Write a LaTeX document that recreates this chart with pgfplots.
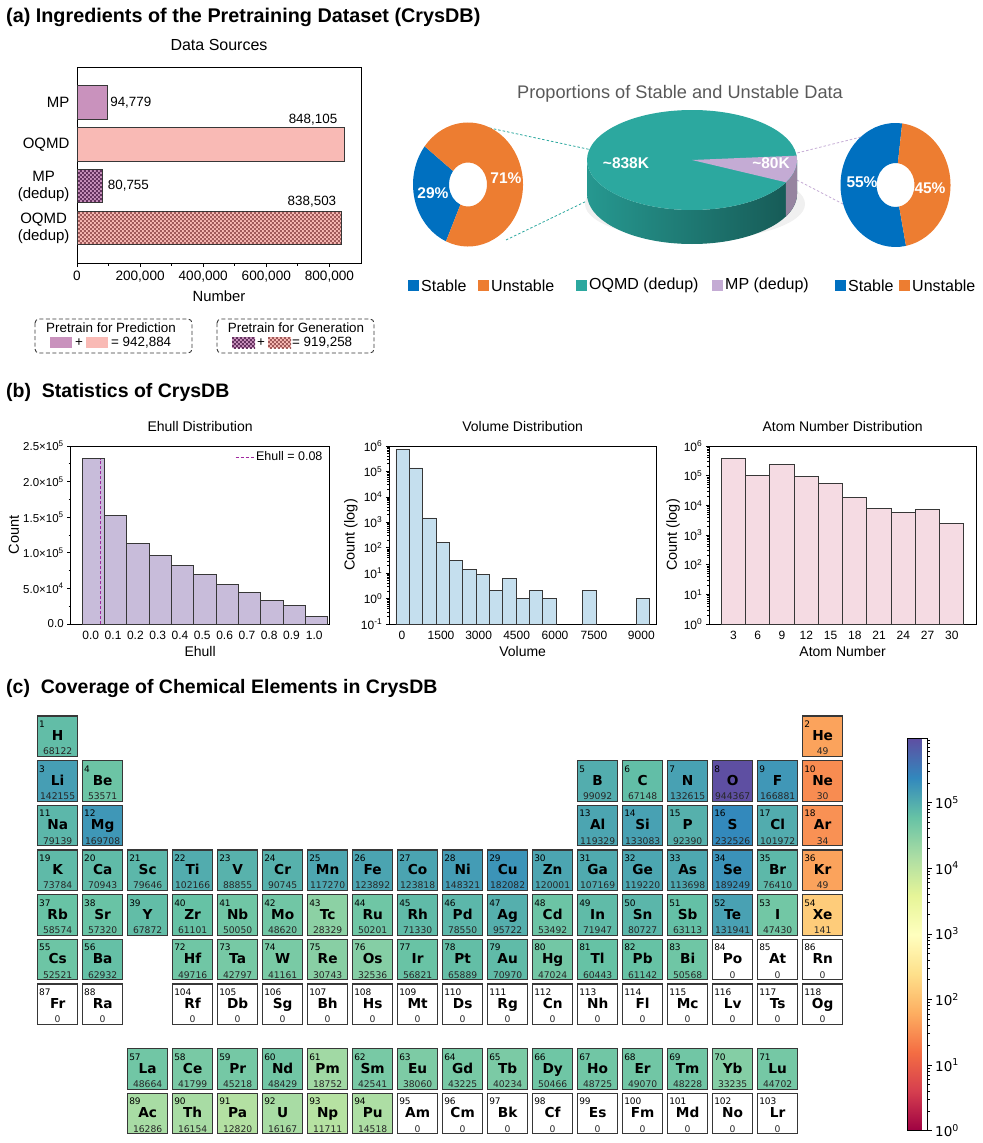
\documentclass[border=0pt]{standalone}
\usepackage{fontspec}
\setmainfont{Liberation Sans}
\setsansfont{Liberation Sans}
\newfontfamily\djv{DejaVu Sans}
\usepackage{pgfplots}
\usepackage{pgfplotstable}
\pgfplotsset{compat=1.18}
\usetikzlibrary{patterns}
\pgfkeys{/pgf/number format/assume math mode=true}
\newcommand\fs[2]{\fontsize{#1bp}{#2bp}\selectfont}

\definecolor{mpc}{RGB}{201,146,189}
\definecolor{oqc}{RGB}{249,186,181}
\definecolor{mpdark}{RGB}{100,50,95}
\definecolor{oqdark}{RGB}{160,90,90}
\definecolor{ehc}{RGB}{200,188,218}
\definecolor{volc}{RGB}{197,223,238}
\definecolor{atc}{RGB}{245,219,227}
\definecolor{stb}{RGB}{0,112,192}
\definecolor{ust}{RGB}{237,125,49}
\definecolor{tealc}{RGB}{44,168,159}
\definecolor{tealside}{RGB}{38,152,144}
\definecolor{tealmid}{RGB}{33,128,121}
\definecolor{tealdk}{RGB}{22,88,84}
\definecolor{mpd}{RGB}{196,171,212}
\definecolor{mpside}{RGB}{150,132,160}
\definecolor{dashp}{RGB}{160,40,160}
\definecolor{edge}{RGB}{55,55,55}
\definecolor{ptitle}{RGB}{89,89,89}

\pgfdeclarepatternformonly{smallcheck}{\pgfpointorigin}{\pgfpoint{4.4bp}{4.4bp}}{\pgfpoint{4.4bp}{4.4bp}}{%
  \pgfpathrectangle{\pgfpointorigin}{\pgfpoint{2.2bp}{2.2bp}}%
  \pgfpathrectangle{\pgfpoint{2.2bp}{2.2bp}}{\pgfpoint{2.2bp}{2.2bp}}%
  \pgfusepath{fill}}

% ---------- data ----------
\pgfplotstableread{
x c
0.05 232000
0.15 152000
0.25 112500
0.35 96500
0.45 82500
0.55 69000
0.65 55500
0.75 44000
0.85 33500
0.95 26000
1.05 10000
}\ehull

\pgfplotstableread{
k c
0.5 746000
1.5 137000
2.5 1480
3.5 155
4.5 32
5.5 14
6.5 9
7.5 2
8.5 6
9.5 1
10.5 2
11.5 1
14.5 2
18.5 1
}\volume

\pgfplotstableread{
x c
3 373000
6 102000
9 246000
12 94000
15 56000
18 18400
21 8000
24 5900
27 7200
30 2500
}\atoms

\pgfplotstableread{
x y z sym n
1 1 1 H 68122
18 1 2 He 49
1 2 3 Li 142155
2 2 4 Be 53571
13 2 5 B 99092
14 2 6 C 67148
15 2 7 N 132615
16 2 8 O 944367
17 2 9 F 166881
18 2 10 Ne 30
1 3 11 Na 79139
2 3 12 Mg 169708
13 3 13 Al 119329
14 3 14 Si 133083
15 3 15 P 92390
16 3 16 S 232526
17 3 17 Cl 101972
18 3 18 Ar 34
1 4 19 K 73784
2 4 20 Ca 70943
3 4 21 Sc 79646
4 4 22 Ti 102166
5 4 23 V 88855
6 4 24 Cr 90745
7 4 25 Mn 117270
8 4 26 Fe 123892
9 4 27 Co 123818
10 4 28 Ni 148321
11 4 29 Cu 182082
12 4 30 Zn 120001
13 4 31 Ga 107169
14 4 32 Ge 119220
15 4 33 As 113698
16 4 34 Se 189249
17 4 35 Br 76410
18 4 36 Kr 49
1 5 37 Rb 58574
2 5 38 Sr 57320
3 5 39 Y 67872
4 5 40 Zr 61101
5 5 41 Nb 50050
6 5 42 Mo 48620
7 5 43 Tc 28329
8 5 44 Ru 50201
9 5 45 Rh 71330
10 5 46 Pd 78550
11 5 47 Ag 95722
12 5 48 Cd 53492
13 5 49 In 71947
14 5 50 Sn 80727
15 5 51 Sb 63113
16 5 52 Te 131941
17 5 53 I 47430
18 5 54 Xe 141
1 6 55 Cs 52521
2 6 56 Ba 62932
4 6 72 Hf 49716
5 6 73 Ta 42797
6 6 74 W 41161
7 6 75 Re 30743
8 6 76 Os 32536
9 6 77 Ir 56821
10 6 78 Pt 65889
11 6 79 Au 70970
12 6 80 Hg 47024
13 6 81 Tl 60443
14 6 82 Pb 61142
15 6 83 Bi 50568
16 6 84 Po 0
17 6 85 At 0
18 6 86 Rn 0
1 7 87 Fr 0
2 7 88 Ra 0
4 7 104 Rf 0
5 7 105 Db 0
6 7 106 Sg 0
7 7 107 Bh 0
8 7 108 Hs 0
9 7 109 Mt 0
10 7 110 Ds 0
11 7 111 Rg 0
12 7 112 Cn 0
13 7 113 Nh 0
14 7 114 Fl 0
15 7 115 Mc 0
16 7 116 Lv 0
17 7 117 Ts 0
18 7 118 Og 0
3 8.45 57 La 48664
4 8.45 58 Ce 41799
5 8.45 59 Pr 45218
6 8.45 60 Nd 48429
7 8.45 61 Pm 18752
8 8.45 62 Sm 42541
9 8.45 63 Eu 38060
10 8.45 64 Gd 43225
11 8.45 65 Tb 40234
12 8.45 66 Dy 50466
13 8.45 67 Ho 48725
14 8.45 68 Er 49070
15 8.45 69 Tm 48228
16 8.45 70 Yb 33235
17 8.45 71 Lu 44702
3 9.45 89 Ac 16286
4 9.45 90 Th 16154
5 9.45 91 Pa 12820
6 9.45 92 U 16167
7 9.45 93 Np 11711
8 9.45 94 Pu 14518
9 9.45 95 Am 0
10 9.45 96 Cm 0
11 9.45 97 Bk 0
12 9.45 98 Cf 0
13 9.45 99 Es 0
14 9.45 100 Fm 0
15 9.45 101 Md 0
16 9.45 102 No 0
17 9.45 103 Lr 0
}\ptab

% stable shares (percent) of the two donuts
\def\lstable{29}
\def\rstable{55}

\newcommand\donutseg[3]{%
  \fill[#1] (axis cs:{55*cos(#2)},{62*sin(#2)}) arc[start angle={#2}, end angle={#3}, x radius=55bp, y radius=62bp]
   -- (axis cs:{19*cos(#3)},{22*sin(#3)}) arc[start angle={#3}, end angle={#2}, x radius=19bp, y radius=22bp] -- cycle;}

\pgfplotsset{
  hist/.style={scale only axis, anchor=north west, height=178bp,
    axis line style={line width=0.9bp, black},
    tick align=outside, xtick style={draw=none}, ytick pos=left,
    ytick style={line width=0.7bp, black}, major tick length=3.5bp, minor tick length=2bp,
    ticklabel style={font=\fs{12}{13}},
    xlabel style={font=\fs{14}{16}, at={(axis description cs:0.5,-0.157)}, anchor=center},
    ylabel style={font=\fs{14.5}{16}},
    title style={font=\fs{14}{16}, at={(axis description cs:0.5,1)}, anchor=base, yshift=9bp},
    clip=false},
  linelegend/.style={legend image code/.code={\draw[dashp, line width=1.1bp, dash pattern=on 3bp off 2bp] (0bp,0bp) -- (18bp,0bp);}},
}

\begin{document}
\begin{tikzpicture}
\useasboundingbox (0,0) rectangle (983bp,-1143bp);

% ---------- section titles ----------
\node[anchor=base west, inner sep=0pt, font=\bfseries\fs{19.8}{22}] at (6bp,-22bp) {(a) Ingredients of the Pretraining Dataset (CrysDB)};
\node[anchor=base west, inner sep=0pt, font=\bfseries\fs{19.5}{22}] at (6bp,-397.7bp) {(b)\ \ Statistics of CrysDB};
\node[anchor=base west, inner sep=0pt, font=\bfseries\fs{19.5}{22}] at (6bp,-693bp) {(c)\ \ Coverage of Chemical Elements in CrysDB};

% ---------- (a) bar chart ----------
\begin{axis}[at={(77bp,-67bp)}, anchor=north west, scale only axis, width=284bp, height=196bp,
  xmin=0, xmax=900000, ymin=-0.84, ymax=3.85,
  axis line style={line width=0.9bp, black},
  xtick={0,200000,400000,600000,800000}, minor x tick num=1, xtick pos=left, tick align=outside,
  major tick length=4bp, minor tick length=2.5bp, xtick style={line width=0.8bp, black},
  scaled x ticks=false,
  xticklabel style={/pgf/number format/fixed, /pgf/number format/1000 sep={,}, font=\fs{13.6}{15}},
  ytick={0,1,2,3}, yticklabels={{OQMD\\(dedup)},{MP\\(dedup)},{OQMD},{MP}}, ytick style={draw=none},
  yticklabel style={align=center, font=\fs{15}{17}},
  xlabel={Number}, xlabel style={font=\fs{14.8}{16}, at={(axis description cs:0.5,-0.168)}, anchor=center},
  title={Data Sources}, title style={font=\fs{16}{18}, at={(axis description cs:0.5,1)}, anchor=base, yshift=11bp},
  bar shift=0pt, bar width=0.8, clip=false]
\addplot[xbar, fill=mpc, draw=edge, line width=0.8bp, point meta=x,
  nodes near coords={\pgfmathprintnumber[fixed,precision=0,1000 sep={,}]{\pgfplotspointmeta}},
  nodes near coords style={anchor=west, inner sep=0pt, xshift=3bp, font=\fs{13.4}{15}, text=black}]
  coordinates {(94779,3)};
\addplot[xbar, fill=oqc, draw=edge, line width=0.8bp, point meta=x,
  nodes near coords={\pgfmathprintnumber[fixed,precision=0,1000 sep={,}]{\pgfplotspointmeta}},
  nodes near coords style={anchor=base east, inner sep=0pt, xshift=-7bp, yshift=21bp, font=\fs{13.4}{15}, text=black}]
  coordinates {(848105,2)};
\addplot[xbar, fill=mpc, draw=edge, line width=0.8bp, postaction={pattern=smallcheck, pattern color=mpdark}, point meta=x,
  nodes near coords={\pgfmathprintnumber[fixed,precision=0,1000 sep={,}]{\pgfplotspointmeta}},
  nodes near coords style={anchor=west, inner sep=0pt, xshift=5bp, font=\fs{13.4}{15}, text=black}]
  coordinates {(80755,1)};
\addplot[xbar, fill=oqc, draw=edge, line width=0.8bp, postaction={pattern=smallcheck, pattern color=oqdark}, point meta=x,
  nodes near coords={\pgfmathprintnumber[fixed,precision=0,1000 sep={,}]{\pgfplotspointmeta}},
  nodes near coords style={anchor=base east, inner sep=0pt, xshift=-5bp, yshift=22bp, font=\fs{13.4}{15}, text=black}]
  coordinates {(838503,0)};
\end{axis}

% legend boxes under the bar chart
\draw[edge, line width=0.9bp, dash pattern=on 4bp off 2.5bp, rounded corners=4bp] (35bp,-319bp) rectangle (192bp,-353bp);
\node[font=\fs{13.4}{15}, inner sep=0pt] at (111bp,-328bp) {Pretrain for Prediction};
\fill[mpc] (50bp,-337bp) rectangle (72bp,-348bp);
\node[font=\fs{13.4}{15}, inner sep=0pt] at (79bp,-343bp) {+};
\fill[oqc] (86bp,-337bp) rectangle (108bp,-348bp);
\node[font=\fs{13.4}{15}, inner sep=0pt, anchor=west] at (111bp,-343bp) {= 942,884};
\draw[edge, line width=0.9bp, dash pattern=on 4bp off 2.5bp, rounded corners=4bp] (217bp,-319bp) rectangle (374bp,-353bp);
\node[font=\fs{13.4}{15}, inner sep=0pt] at (296bp,-328bp) {Pretrain for Generation};
\fill[mpc] (232bp,-337bp) rectangle (255bp,-348bp);
\fill[pattern=smallcheck, pattern color=mpdark] (232bp,-337bp) rectangle (255bp,-348bp);
\node[font=\fs{13.4}{15}, inner sep=0pt] at (261bp,-343bp) {+};
\fill[oqc] (268bp,-337bp) rectangle (291bp,-348bp);
\fill[pattern=smallcheck, pattern color=oqdark] (268bp,-337bp) rectangle (291bp,-348bp);
\node[font=\fs{13.4}{15}, inner sep=0pt, anchor=west] at (292bp,-343bp) {= 919,258};

% ---------- (a) pies ----------
\node[font=\fs{18.2}{20}, text=ptitle] at (680bp,-94bp) {Proportions of Stable and Unstable Data};

% connectors
\draw[tealc, line width=0.8bp, dash pattern=on 2.5bp off 2bp] (485bp,-127bp) -- (592bp,-150bp);
\draw[tealc, line width=0.8bp, dash pattern=on 2.5bp off 2bp] (506bp,-240bp) -- (593bp,-198bp);
\draw[mpd, line width=0.8bp, dash pattern=on 2.5bp off 2bp] (793bp,-154bp) -- (905bp,-126bp);
\draw[mpd, line width=0.8bp, dash pattern=on 2.5bp off 2bp] (793bp,-178bp) -- (916bp,-242bp);

% left donut (OQMD dedup)
\begin{axis}[at={(468bp,-184.5bp)}, anchor=center, x=1bp, y=1bp, xmin=-60, xmax=60, ymin=-65, ymax=65, hide axis, clip=false]
\donutseg{stb}{142}{142+\lstable*3.6}
\donutseg{ust}{142+\lstable*3.6}{502}
\end{axis}
\node[white, font=\bfseries\fs{15.5}{17}] at (433bp,-193bp) {\lstable\%};
\node[white, font=\bfseries\fs{15.5}{17}] at (506bp,-178bp) {71\%};

% right donut (MP dedup)
\begin{axis}[at={(895.5bp,-185bp)}, anchor=center, x=1bp, y=1bp, xmin=-60, xmax=60, ymin=-65, ymax=65, hide axis, clip=false]
\donutseg{stb}{83}{83+\rstable*3.6}
\donutseg{ust}{83+\rstable*3.6}{443}
\end{axis}
\node[white, font=\bfseries\fs{15.5}{17}] at (862bp,-182bp) {\rstable\%};
\node[white, font=\bfseries\fs{15.5}{17}] at (930bp,-188bp) {45\%};

% 3D pie: OQMD (dedup) 838,503 vs MP (dedup) 80,755
\begin{axis}[at={(692bp,-160bp)}, anchor=center, x=1bp, y=1bp, xmin=-110, xmax=110, ymin=-90, ymax=90, hide axis, clip=false]
\fill[black!6] (axis cs:3,-44) ellipse[x radius=110bp, y radius=36bp];
\shade[left color=tealside, middle color=tealmid, right color=tealdk] (axis cs:-105,0) -- (axis cs:-105,-34) arc[start angle=180, end angle=360, x radius=105bp, y radius=50bp] -- (axis cs:105,0) arc[start angle=0, end angle=-180, x radius=105bp, y radius=50bp] -- cycle;
\fill[mpside] (axis cs:{105*cos(-26.5)},{50*sin(-26.5)}) arc[start angle=-26.5, end angle=0, x radius=105bp, y radius=50bp] -- (axis cs:105,-34) arc[start angle=0, end angle=-26.5, x radius=105bp, y radius=50bp] -- cycle;
\fill[tealc] (axis cs:0,0) ellipse[x radius=105bp, y radius=50bp];
\fill[mpd] (axis cs:0,0) -- (axis cs:{105*cos(-26.5)},{50*sin(-26.5)}) arc[start angle=-26.5, end angle=5, x radius=105bp, y radius=50bp] -- cycle;
\end{axis}
\node[white, font=\bfseries\fs{15.5}{17}] at (626bp,-163bp) {\textasciitilde838K};
\node[white, font=\bfseries\fs{15.5}{17}] at (771bp,-163bp) {\textasciitilde80K};

% pie legends
\fill[stb] (408bp,-280bp) rectangle (419bp,-291bp);
\node[anchor=west, inner sep=0pt, font=\fs{16}{18}] at (421bp,-285.5bp) {Stable};
\fill[ust] (478bp,-280bp) rectangle (489bp,-291bp);
\node[anchor=west, inner sep=0pt, font=\fs{16}{18}] at (491bp,-285.5bp) {Unstable};
\fill[tealc] (576bp,-280bp) rectangle (587bp,-291bp);
\node[anchor=west, inner sep=0pt, font=\fs{16}{18}] at (589bp,-285.5bp) {OQMD (dedup)};
\fill[mpd] (712bp,-280bp) rectangle (723bp,-291bp);
\node[anchor=west, inner sep=0pt, font=\fs{16}{18}] at (725bp,-285.5bp) {MP (dedup)};
\fill[stb] (835bp,-280bp) rectangle (846bp,-291bp);
\node[anchor=west, inner sep=0pt, font=\fs{16}{18}] at (848bp,-285.5bp) {Stable};
\fill[ust] (899bp,-280bp) rectangle (910bp,-291bp);
\node[anchor=west, inner sep=0pt, font=\fs{16}{18}] at (912bp,-285.5bp) {Unstable};

% ---------- (b) Ehull ----------
\begin{axis}[hist, at={(70.7bp,-446bp)}, width=258.8bp,
  xmin=-0.052, xmax=1.108, ymin=0, ymax=250000, scaled y ticks=false,
  xtick={0.038,0.138,0.238,0.338,0.438,0.538,0.638,0.738,0.838,0.938,1.04},
  xticklabels={0.0,0.1,0.2,0.3,0.4,0.5,0.6,0.7,0.8,0.9,1.0},
  ytick={0,50000,100000,150000,200000,250000},
  yticklabels={0.0,5.0×10\textsuperscript{4},1.0×10\textsuperscript{5},1.5×10\textsuperscript{5},2.0×10\textsuperscript{5},2.5×10\textsuperscript{5}},
  yticklabel style={font=\fs{11.5}{13}},
  minor y tick num=1,
  xlabel={Ehull}, ylabel={Count}, ylabel style={at={(axis description cs:-0.22,0.5)}, anchor=center},
  title={Ehull Distribution}, linelegend,
  legend style={draw=none, fill=none, at={(axis description cs:0.985,0.985)}, anchor=north east, font=\fs{12.5}{13}, inner sep=1bp}]
\addplot[ybar, bar width=0.1, bar shift=0pt, fill=ehc, draw=edge, line width=0.9bp, forget plot] table[x=x, y=c] \ehull;
\addplot[dashp, line width=1.1bp, dash pattern=on 3bp off 2bp] coordinates {(0.08,0) (0.08,232000)};
\addlegendentry{Ehull = 0.08}
\end{axis}

% ---------- (b) Volume ----------
\begin{axis}[hist, at={(389.3bp,-446bp)}, width=266.7bp,
  ymode=log, log origin=infty, ymin=0.1, ymax=1e6, xmin=-0.5, xmax=19.5,
  xtick={0.45,3.38,6.2,9.05,11.93,14.85,18.4},
  xticklabels={0,1500,3000,4500,6000,7500,9000},
  ytick={1e-1,1,1e1,1e2,1e3,1e4,1e5,1e6},
  yticklabels={10\textsuperscript{-1},10\textsuperscript{0},10\textsuperscript{1},10\textsuperscript{2},10\textsuperscript{3},10\textsuperscript{4},10\textsuperscript{5},10\textsuperscript{6}},
  minor ytick={2e-1,3e-1,4e-1,5e-1,6e-1,7e-1,8e-1,9e-1,2,3,4,5,6,7,8,9,2e1,3e1,4e1,5e1,6e1,7e1,8e1,9e1,2e2,3e2,4e2,5e2,6e2,7e2,8e2,9e2,2e3,3e3,4e3,5e3,6e3,7e3,8e3,9e3,2e4,3e4,4e4,5e4,6e4,7e4,8e4,9e4,2e5,3e5,4e5,5e5,6e5,7e5,8e5,9e5},
  xlabel={Volume}, ylabel={Count (log)}, ylabel style={at={(axis description cs:-0.144,0.5)}, anchor=center},
  title={Volume Distribution}]
\addplot[ybar, bar width=1, bar shift=0pt, fill=volc, draw=edge, line width=0.9bp] table[x=k, y=c] \volume;
\end{axis}

% ---------- (b) Atom number ----------
\begin{axis}[hist, at={(709.3bp,-446bp)}, width=266.7bp,
  ymode=log, log origin=infty, ymin=1, ymax=1e6, xmin=0, xmax=33,
  xtick={3,6,9,12,15,18,21,24,27,30},
  ytick={1,1e1,1e2,1e3,1e4,1e5,1e6},
  yticklabels={10\textsuperscript{0},10\textsuperscript{1},10\textsuperscript{2},10\textsuperscript{3},10\textsuperscript{4},10\textsuperscript{5},10\textsuperscript{6}},
  minor ytick={2,3,4,5,6,7,8,9,2e1,3e1,4e1,5e1,6e1,7e1,8e1,9e1,2e2,3e2,4e2,5e2,6e2,7e2,8e2,9e2,2e3,3e3,4e3,5e3,6e3,7e3,8e3,9e3,2e4,3e4,4e4,5e4,6e4,7e4,8e4,9e4,2e5,3e5,4e5,5e5,6e5,7e5,8e5,9e5},
  xlabel={Atom Number}, ylabel={Count (log)}, ylabel style={at={(axis description cs:-0.136,0.5)}, anchor=center},
  title={Atom Number Distribution}]
\addplot[ybar, bar width=3, bar shift=0pt, fill=atc, draw=edge, line width=0.9bp] table[x=x, y=c] \atoms;
\end{axis}

% ---------- (c) periodic table ----------
\begin{axis}[at={(35.15bp,-713.87bp)}, anchor=north west, scale only axis, width=810bp, height=422.04bp,
  xmin=0.5, xmax=18.5, ymin=0.5, ymax=9.95, y dir=reverse, hide axis, clip=false,
  colormap={spectral}{rgb255=(158,1,66) rgb255=(213,62,79) rgb255=(244,109,67) rgb255=(253,174,97) rgb255=(254,224,139) rgb255=(255,255,191) rgb255=(230,245,152) rgb255=(171,221,164) rgb255=(102,194,165) rgb255=(50,136,189) rgb255=(94,79,162)},
  point meta min=0, point meta max=5.975,
  colorbar,
  colorbar style={at={(parent axis.north east)}, anchor=north west, xshift=53.6bp, yshift=-24.8bp,
    scale only axis, width=20.4bp, height=392bp,
    ytick={0,1,2,3,4,5},
    yticklabels={10\textsuperscript{0},10\textsuperscript{1},10\textsuperscript{2},10\textsuperscript{3},10\textsuperscript{4},10\textsuperscript{5}},
    minor ytick={0.301,0.477,0.602,0.699,0.778,0.845,0.903,0.954,1.301,1.477,1.602,1.699,1.778,1.845,1.903,1.954,2.301,2.477,2.602,2.699,2.778,2.845,2.903,2.954,3.301,3.477,3.602,3.699,3.778,3.845,3.903,3.954,4.301,4.477,4.602,4.699,4.778,4.845,4.903,4.954,5.301,5.477,5.602,5.699,5.778,5.845,5.903,5.954},
    ytick pos=right, yticklabel pos=right, tick align=outside,
    major tick length=4bp, minor tick length=2.5bp, tick style={black, line width=0.7bp},
    yticklabel style={font=\djv\fs{13.5}{14}},
    axis line style={line width=0.8bp, black}}]
% coloured cells (count > 0)
\addplot[scatter, only marks, mark=square*, mark size=20.2bp,
  scatter/use mapped color={draw=edge, fill=mapped color},
  mark options={line width=1.1bp},
  restrict expr to domain={\thisrow{n}}{0.5:5000000},
  point meta={ln(\thisrow{n})/2.302585093}] table[x=x, y=y] \ptab;
% empty cells (count = 0)
\addplot[only marks, mark=square*, mark size=20.2bp,
  mark options={fill=white, draw=edge, line width=1.1bp},
  restrict expr to domain={\thisrow{n}}{-1:0.5}] table[x=x, y=y] \ptab;
% symbols
\addplot[draw=none, mark=none, point meta=explicit symbolic, nodes near coords,
  nodes near coords style={anchor=base, inner sep=0pt, yshift=-4.4bp, font=\djv\bfseries\fs{13.7}{14}, text=black}]
  table[x=x, y=y, meta=sym] \ptab;
% atomic numbers
\addplot[draw=none, mark=none, point meta=explicit symbolic, nodes near coords,
  nodes near coords style={anchor=north west, inner sep=0pt, xshift=-18.6bp, yshift=15.6bp, font=\djv\fs{9}{10}, text=black}]
  table[x=x, y=y, meta=z] \ptab;
% counts
\addplot[draw=none, mark=none, point meta=explicit symbolic, nodes near coords,
  nodes near coords style={anchor=base, inner sep=0pt, yshift=-18.6bp, font=\djv\fs{9.2}{10}, text=black!85}]
  table[x=x, y=y, meta=n] \ptab;
\end{axis}

\end{tikzpicture}
\end{document}
